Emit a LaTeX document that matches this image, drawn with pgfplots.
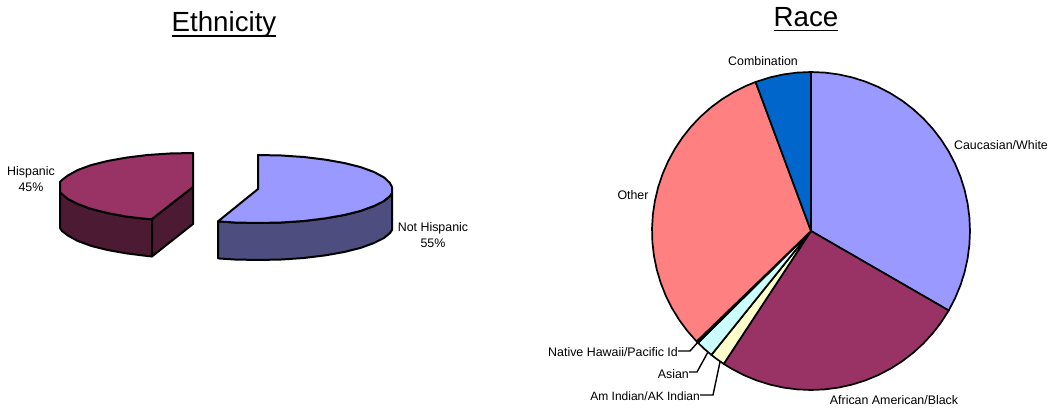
\documentclass[border=0pt]{standalone}
\usepackage{fontspec}
\setmainfont{Liberation Sans}
\usepackage{pgfplots}
\pgfplotsset{compat=1.18}
\definecolor{lilac}{HTML}{9999FF}
\definecolor{lilacdark}{HTML}{4D4D80}
\definecolor{plum}{HTML}{993366}
\definecolor{plumdark}{HTML}{4D1A33}
\definecolor{salmon}{HTML}{FF8080}
\definecolor{ocean}{HTML}{0066CC}
\definecolor{paleblue}{HTML}{CCFFFF}
\definecolor{paleyellow}{HTML}{FFFFCC}
\definecolor{violet}{HTML}{660066}
\newcommand{\lab}{\fontsize{12.4}{16}\selectfont}
\newcommand{\ttl}{\fontsize{27.7}{30}\selectfont}
\pgfplotsset{
  page/.style={hide axis, scale only axis, clip=false, anchor=south west},
  slice/.style={draw=black, line width=1.7pt, line join=round, mark=none, solid},
  block/.style={draw=black, line width=2pt, line join=round, mark=none, solid},
}
\begin{document}
\begin{tikzpicture}[x=1pt,y=1pt]
\path[use as bounding box] (0,0) rectangle (1049,409);

% Ethnicity, 45 / 55, in picture pixels
\begin{axis}[page, at={(0,0)}, width=1049pt, height=409pt,
  xmin=0, xmax=1049, ymin=0, ymax=409, y dir=reverse]
% Hispanic: side walls, then top
\addplot[block, fill=plumdark] coordinates {(60,192) (62,194) (68,199) (77.8,204) (91.1,208.9) (107.5,213) (126.5,216.6) (147.5,219) (152,219)
  (152,256.4) (147.5,256) (126.5,253.4) (107.5,250) (91.1,245.9) (77.8,241) (68,235.6) (62,231) (60,228)} -- cycle;
\addplot[block, fill=plumdark] coordinates {(152,219) (193,187) (193,224) (152,256.4)} -- cycle;
\addplot[block, fill=plum] coordinates {(193,187) (193,153) (170,153.5) (147.5,155) (126.5,157.6) (107.5,161) (91.1,165.1) (77.8,170) (68,175.4) (62,180) (60,182) (60,192)
  (62,194) (68,199) (77.8,204) (91.1,208.9) (107.5,213) (126.5,216.6) (147.5,219) (152,219)} -- cycle;
% Not Hispanic: side wall, then top
\addplot[block, fill=lilacdark] coordinates {(392,193) (390,196) (384,201) (374,206) (360.6,210.9) (344.2,215) (325,218.4) (303.8,221) (281.3,222.5) (258,223) (234.7,222.5) (218,221.4)
  (218,258.4) (234.7,259.5) (258,260) (281.3,259.5) (303.8,258) (325,255.4) (344.2,252) (360.6,247.9) (374,243) (384,238) (390,233) (392,230)} -- cycle;
\addplot[block, fill=lilac] coordinates {(258,189) (258,155) (281.3,155.5) (303.8,157) (325,159.6) (344.2,163) (360.6,167.1) (374,172) (384,177.4) (390,183.1) (392,187) (392,193)
  (390,196) (384,201) (374,206) (360.6,210.9) (344.2,215) (325,218.4) (303.8,221) (281.3,222.5) (258,223) (234.7,222.5) (218,221.4)} -- cycle;

\node[font=\ttl, inner sep=0pt, anchor=base] at (axis cs:224,31.7) {Ethnicity};
\draw[line width=1.8pt] (axis cs:172,35.8) -- (axis cs:276,35.8);
\node[font=\ttl, inner sep=0pt, anchor=base] at (axis cs:806,27) {Race};
\draw[line width=1.8pt] (axis cs:774,30.6) -- (axis cs:838,30.6);
\node[font=\lab, align=center, inner sep=0pt] at (axis cs:31,179) {Hispanic\\45\%};
\node[font=\lab, align=center, inner sep=0pt] at (axis cs:433,235) {Not Hispanic\\55\%};
\node[font=\lab, inner sep=0pt] at (axis cs:763,61) {Combination};
\node[font=\lab, inner sep=0pt] at (axis cs:1001,145) {Caucasian/White};
\node[font=\lab, inner sep=0pt] at (axis cs:633,195) {Other};
\node[font=\lab, inner sep=0pt] at (axis cs:894,400) {African American/Black};
\node[font=\lab, inner sep=0pt, anchor=east] at (axis cs:678,352) {Native Hawaii/Pacific Id};
\node[font=\lab, inner sep=0pt, anchor=east] at (axis cs:689,374) {Asian};
\node[font=\fontsize{12}{14}\selectfont, inner sep=0pt, anchor=east] at (axis cs:700,396) {Am Indian/AK Indian};
\end{axis}

% Race: slices as (angle, radius), angle counterclockwise from east
\begin{axis}[page, at={(652,19)}, width=318pt, height=318pt,
  xmin=-159, xmax=159, ymin=-159, ymax=159]
\addplot[slice, fill=lilac, data cs=polar] coordinates {(0,0) (90,159) (85,159) (80,159) (75,159) (70,159) (65,159) (60,159) (55,159) (50,159) (45,159) (40,159) (35,159) (30,159) (25,159) (20,159) (15,159) (10,159) (5,159) (0,159) (-5,159) (-10,159) (-15,159) (-20,159) (-25,159) (-30,159)} -- cycle;
\addplot[slice, fill=plum, data cs=polar] coordinates {(0,0) (-30,159) (-35,159) (-40,159) (-45,159) (-50,159) (-55,159) (-60,159) (-65,159) (-70,159) (-75,159) (-80,159) (-85,159) (-90,159) (-95,159) (-100,159) (-105,159) (-110,159) (-115,159) (-120,159) (-123.3,159)} -- cycle;
\addplot[slice, fill=paleyellow, data cs=polar] coordinates {(0,0) (-123.3,159) (-126,159) (-128.8,159)} -- cycle;
\addplot[slice, fill=paleblue, data cs=polar] coordinates {(0,0) (-128.8,159) (-132,159) (-135.3,159)} -- cycle;
\addplot[slice, fill=violet, data cs=polar] coordinates {(0,0) (-135.3,159) (-136,159)} -- cycle;
\addplot[slice, fill=salmon, data cs=polar] coordinates {(0,0) (-136,159) (-141,159) (-146,159) (-151,159) (-156,159) (-161,159) (-166,159) (-171,159) (-176,159) (-181,159) (-186,159) (-191,159) (-196,159) (-201,159) (-206,159) (-211,159) (-216,159) (-221,159) (-226,159) (-231,159) (-236,159) (-241,159) (-246,159) (-249.6,159)} -- cycle;
\addplot[slice, fill=ocean, data cs=polar] coordinates {(0,0) (-249.6,159) (-255,159) (-260,159) (-265,159) (-270,159)} -- cycle;
% leader lines
\addplot[black, line width=1.4pt, mark=none] coordinates {(-133,-120) (-121,-120) (-113,-111)};
\addplot[black, line width=1.4pt, mark=none] coordinates {(-122,-141) (-114,-141) (-103,-121)};
\addplot[black, line width=1.4pt, mark=none] coordinates {(-111,-164) (-98,-164) (-91,-131)};
\end{axis}
\end{tikzpicture}
\end{document}
